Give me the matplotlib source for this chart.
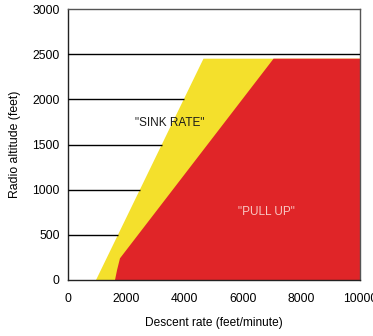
import numpy as np
import matplotlib
matplotlib.use("Agg")
import matplotlib.pyplot as plt

plt.rcParams['font.family'] = ['Liberation Sans', 'DejaVu Sans']

# Envelope boundaries (descent rate in ft/min, radio altitude in ft)
sink_rate_edge_rate = [960, 4640]
sink_rate_edge_alt = [0, 2450]
pull_up_edge_rate = [1610, 1680, 1780, 7040]
pull_up_edge_alt = [0, 110, 240, 2450]
envelope_top = 2450
max_rate = 10000

grid_alts = [500, 1000, 1500, 2000]
full_line_alt = 2500

x_ticks = [0, 2000, 4000, 6000, 8000, 10000]
y_ticks = [0, 500, 1000, 1500, 2000, 2500, 3000]

yellow = '#f4e02c'
red = '#e02528'

fig = plt.figure(figsize=(3.73, 3.36), dpi=100)
ax = fig.add_axes([68/373, 56/336, 292/373, 271/336])
ax.set_xlim(0, max_rate)
ax.set_ylim(0, 3000)

# "SINK RATE" band: from the sink-rate edge to the right boundary
yx = sink_rate_edge_rate + [max_rate, max_rate]
yy = sink_rate_edge_alt + [envelope_top, 0]
ax.fill(yx, yy, color=yellow, lw=0, zorder=1)

# "PULL UP" region
rx = pull_up_edge_rate + [max_rate, max_rate]
ry = pull_up_edge_alt + [envelope_top, 0]
ax.fill(rx, ry, color=red, lw=0, zorder=2)

# Altitude reference lines stop at the sink-rate edge
for a in grid_alts:
    xe = np.interp(a, sink_rate_edge_alt, sink_rate_edge_rate)
    ax.plot([0, xe], [a, a], color='black', lw=1.0, zorder=3, solid_capstyle='butt')
ax.axhline(full_line_alt, color='black', lw=1.0, zorder=3)

ax.text(3490, 1735, '"SINK RATE"', ha='center', va='center',
        fontsize=8.5, color='#1a1a1a', zorder=4)
ax.text(6800, 756, '"PULL UP"', ha='center', va='center',
        fontsize=8.5, color='#f8c8c4', zorder=4)

ax.set_xticks(x_ticks)
ax.set_yticks(y_ticks)
ax.tick_params(length=0, labelsize=8.7, colors='black')
ax.tick_params(axis='x', pad=9)
ax.tick_params(axis='y', pad=6)

for side in ['top', 'right']:
    ax.spines[side].set_color('#555555')
    ax.spines[side].set_linewidth(1.0)
for side in ['left', 'bottom']:
    ax.spines[side].set_color('#222222')
    ax.spines[side].set_linewidth(1.0)

ax.set_xlabel('Descent rate (feet/minute)', fontsize=8.6, labelpad=9)
ax.set_ylabel('Radio altitude (feet)', fontsize=8.8, labelpad=8)

fig.savefig('out.png', dpi=100)
